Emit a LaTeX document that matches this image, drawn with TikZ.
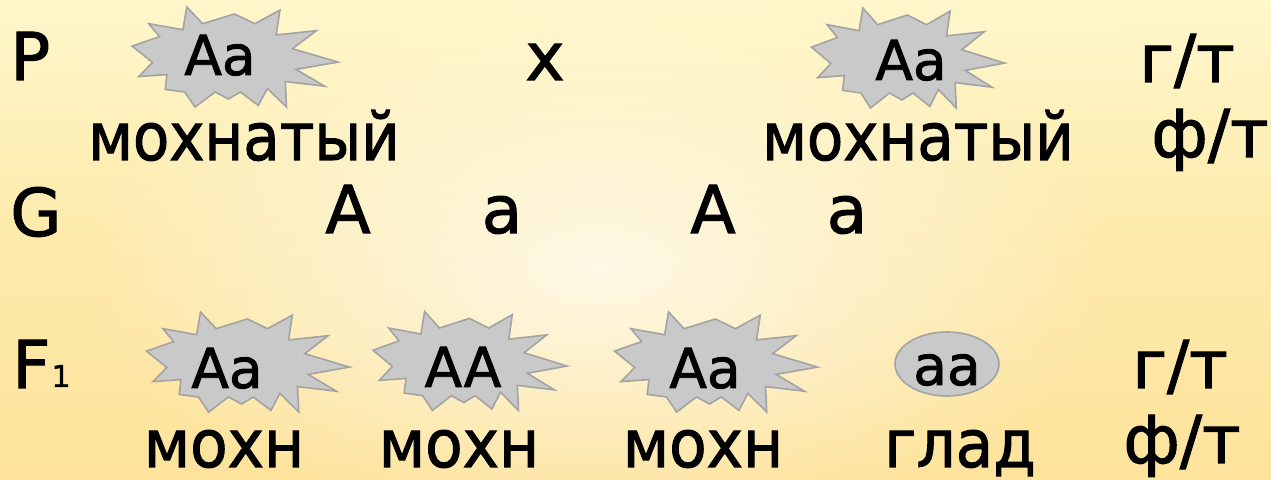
\documentclass[tikz,border=0pt]{standalone}
\usepackage{fontspec}
\setmainfont{DejaVu Sans}[FakeBold=1.6]
\usetikzlibrary{fadings}
\tikzfading[name=glow, inner color=transparent!0, outer color=transparent!100]
\definecolor{bgtop}{HTML}{FEF7CB}
\definecolor{bgmid}{HTML}{FDEAAB}
\definecolor{bgbot}{HTML}{FDE39C}
\definecolor{starfill}{HTML}{C9C9C9}
\definecolor{starline}{HTML}{A3A3A3}
\tikzset{
  burst/.pic={
    \filldraw[fill=starfill,draw=starline,line width=0.8pt,line join=miter]
      (-0.234,-0.5) -- (-0.157,-0.333) -- (-0.003,-0.43) -- (0.096,-0.333)
      -- (0.218,-0.468) -- (0.2,-0.221) -- (0.395,-0.263) -- (0.279,-0.083)
      -- (0.5,0.051) -- (0.296,0.124) -- (0.435,0.292) -- (0.244,0.246)
      -- (0.25,0.5) -- (0.157,0.315) -- (0.113,0.484) -- (0.026,0.35)
      -- (-0.032,0.42) -- (-0.096,0.35) -- (-0.194,0.5) -- (-0.244,0.35)
      -- (-0.339,0.324) -- (-0.33,0.176) -- (-0.468,0.196) -- (-0.4,0.055)
      -- (-0.5,-0.109) -- (-0.366,-0.204) -- (-0.419,-0.333) -- (-0.253,-0.273)
      -- cycle;
  },
  main/.style={font=\fontsize{33}{36}\selectfont, anchor=base, inner sep=0pt},
  geno/.style={font=\fontsize{27.5}{30}\selectfont, anchor=base, inner sep=0pt},
  sub/.style={font=\fontsize{15}{16}\selectfont, anchor=base, inner sep=0pt},
}
\begin{document}
\begin{tikzpicture}[x=0.5pt,y=-0.5pt]
\useasboundingbox (0,0) rectangle (1271,480);
% background
\shade[top color=bgtop, bottom color=bgbot, middle color=bgmid] (0,0) rectangle (1271,480);
\fill[white, opacity=0.7, path fading=glow] (600,270) ellipse [x radius=520, y radius=260];
\fill[bgtop, opacity=0.6, path fading=glow] (640,0) ellipse [x radius=900, y radius=120];

% row P
\node[main, anchor=base west] (P) at (10,80) {P};
\pic[xscale=206, yscale=100] at (235,57) {burst};
\node[geno] (p1) at (220,75) {Aa};
\node[main] (cross) at (545,80) {x};
\pic[xscale=193, yscale=100] at (908,58) {burst};
\node[geno] (p2) at (911,80) {Aa};
\node[main] (gt1) at (1187,82) {г/т};
\node[main, xscale=0.9] (ph1) at (244,160) {мохнатый};
\node[main, xscale=0.9] (ph2) at (918,160) {мохнатый};
\node[main] (ft1) at (1210,157) {ф/т};

% row G
\node[main, anchor=base west] (G) at (10,236) {G};
\node[main] (g1) at (348,233) {A};
\node[main] (g2) at (502,233) {a};
\node[main] (g3) at (713,233) {A};
\node[main] (g4) at (847,233) {a};

% row F1
\node[main, anchor=base west] (F) at (12,388) {F};
\node[sub] (F1) at (61,387) {1};
\pic[xscale=203, yscale=100] at (248,362) {burst};
\node[geno] (f1) at (227,388) {Aa};
\pic[xscale=194, yscale=99] at (470,361) {burst};
\node[geno] (f2) at (463,387) {AA};
\pic[xscale=203, yscale=100] at (716,362) {burst};
\node[geno] (f3) at (705,388) {Aa};
\filldraw[fill=starfill, draw=starline, line width=0.8pt] (947,364) ellipse [x radius=52, y radius=32];
\node[geno] (f4) at (947,385) {aa};
\node[main] (gt2) at (1180,388) {г/т};

\node[main, xscale=0.93] (m1) at (224,467) {мохн};
\node[main, xscale=0.93] (m2) at (459,467) {мохн};
\node[main, xscale=0.93] (m3) at (703,467) {мохн};
\node[main, xscale=0.93] (m4) at (960,467) {глад};
\node[main] (ft2) at (1182,463) {ф/т};
\end{tikzpicture}
\end{document}
